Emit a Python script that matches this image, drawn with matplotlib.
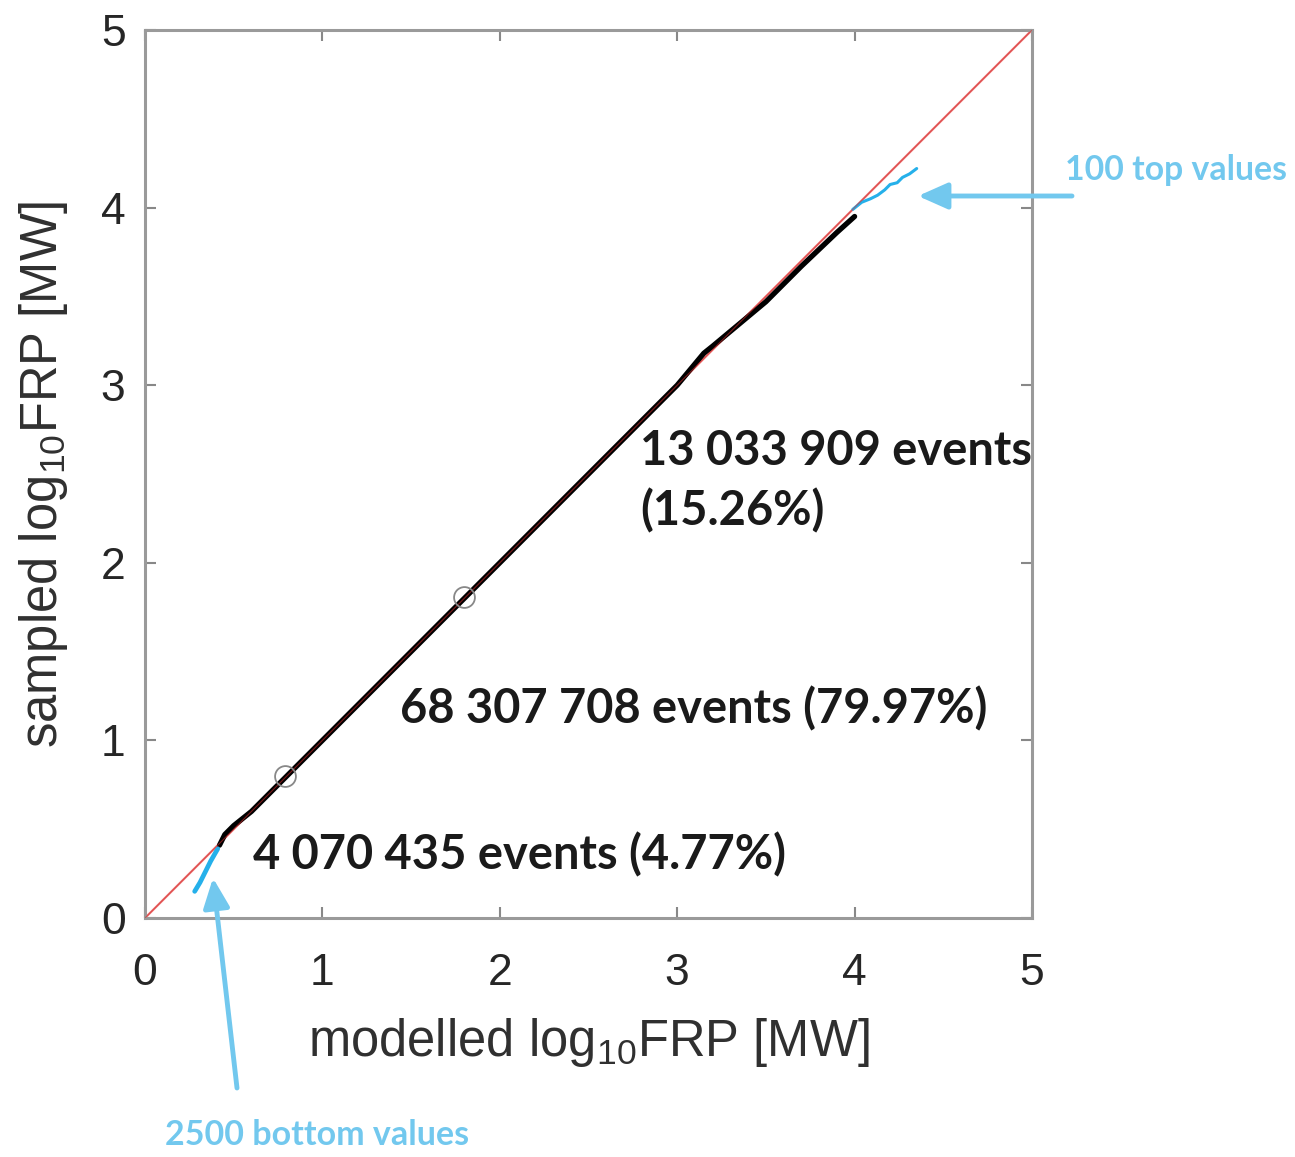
import matplotlib
matplotlib.use("Agg")
import matplotlib.pyplot as plt

# ---- data ----
ref_line = [0, 5]
main_x = [0.42, 0.45, 0.50, 0.60, 0.80, 1.00, 1.50, 2.00, 2.50, 3.00, 3.15, 3.20, 3.50, 3.70, 3.90, 4.00]
main_y = [0.41, 0.47, 0.52, 0.60, 0.80, 1.00, 1.50, 2.00, 2.50, 3.00, 3.18, 3.22, 3.47, 3.67, 3.86, 3.95]
bottom_x = [0.28, 0.31, 0.34, 0.37, 0.41]
bottom_y = [0.15, 0.20, 0.26, 0.32, 0.39]
top_x = [3.99, 4.04, 4.09, 4.13, 4.17, 4.20, 4.24, 4.27, 4.31, 4.35]
top_y = [3.99, 4.03, 4.05, 4.07, 4.10, 4.13, 4.14, 4.17, 4.19, 4.22]
circle_x = [0.79, 1.80]
circle_y = [0.80, 1.81]
ticks = [0, 1, 2, 3, 4, 5]
labels_events = ["13 033 909 events\n(15.26%)",
                 "68 307 708 events (79.97%)",
                 "4 070 435 events (4.77%)"]
label_top = "100 top values"
label_bottom = "2500 bottom values"

plt.rcParams['mathtext.default'] = 'regular'
plt.rcParams['font.family'] = ['Liberation Sans', 'DejaVu Sans']

W, H = 1295, 1157
fig = plt.figure(figsize=(W / 100, H / 100), dpi=100)
ax = fig.add_axes([145 / W, 1 - 918 / H, (1032 - 145) / W, (918 - 30) / H])

ax.plot(ref_line, ref_line, color='#f07a7a', lw=1.6, zorder=2)
ax.plot(main_x, main_y, color='black', lw=3.8, zorder=3, solid_capstyle='round')
ax.plot(ref_line, ref_line, color='#d03030', lw=0.8, alpha=0.6, zorder=4)
ax.plot(bottom_x, bottom_y, color='#25b0ea', lw=3.4, zorder=3, solid_capstyle='round')
ax.plot(top_x, top_y, color='#25b0ea', lw=2.2, zorder=3, solid_capstyle='round')
ax.plot(circle_x, circle_y, 'o', mfc='none', mec='#888888', ms=15, mew=1.3, zorder=5)

ax.set_xlim(0, 5)
ax.set_ylim(0, 5)
ax.set_xticks(ticks)
ax.set_yticks(ticks)
ax.tick_params(direction='in', length=8, width=1.5, colors='#888888',
               labelcolor='#262626', labelsize=32, top=True, right=True)
ax.tick_params(axis='x', pad=25)
ax.tick_params(axis='y', pad=14)
for s in ax.spines.values():
    s.set_color('#9a9a9a')
    s.set_linewidth(2.2)

ax.set_xlabel('modelled log$_{10}$FRP [MW]', fontsize=36.5, color='#303030', labelpad=16)
ax.set_ylabel('sampled log$_{10}$FRP [MW]', fontsize=36.5, color='#303030', labelpad=22)

tkw = dict(fontsize=33.8, fontweight='bold', family=['Lato', 'DejaVu Sans'],
           color='#1a1a1a', va='center', ha='left')
ax.text(2.79, 2.46, labels_events[0], linespacing=1.4, **tkw)
ax.text(1.437, 1.18, labels_events[1], **tkw)
ax.text(0.609, 0.355, labels_events[2], **tkw)

blue = '#72c8ee'
fig.text(1065 / W, 1 - 170 / H, label_top, fontsize=24.3, fontweight='bold',
         family=['Lato', 'DejaVu Sans'], color=blue, ha='left', va='center')
fig.text(165 / W, 1 - 1135 / H, label_bottom, fontsize=24.5, fontweight='bold',
         family=['Lato', 'DejaVu Sans'], color=blue, ha='left', va='center')

akw = dict(arrowstyle='-|>,head_length=0.9,head_width=0.4', color=blue, lw=3.5,
           mutation_scale=20, shrinkA=0, shrinkB=0)
ax.annotate('', xy=(918, H - 196), xytext=(1072, H - 196), xycoords='figure pixels',
            textcoords='figure pixels', arrowprops=akw, annotation_clip=False)
ax.annotate('', xy=(213, H - 878), xytext=(237, H - 1088), xycoords='figure pixels',
            textcoords='figure pixels', arrowprops=akw, annotation_clip=False)

fig.savefig('out.png', dpi=100)
